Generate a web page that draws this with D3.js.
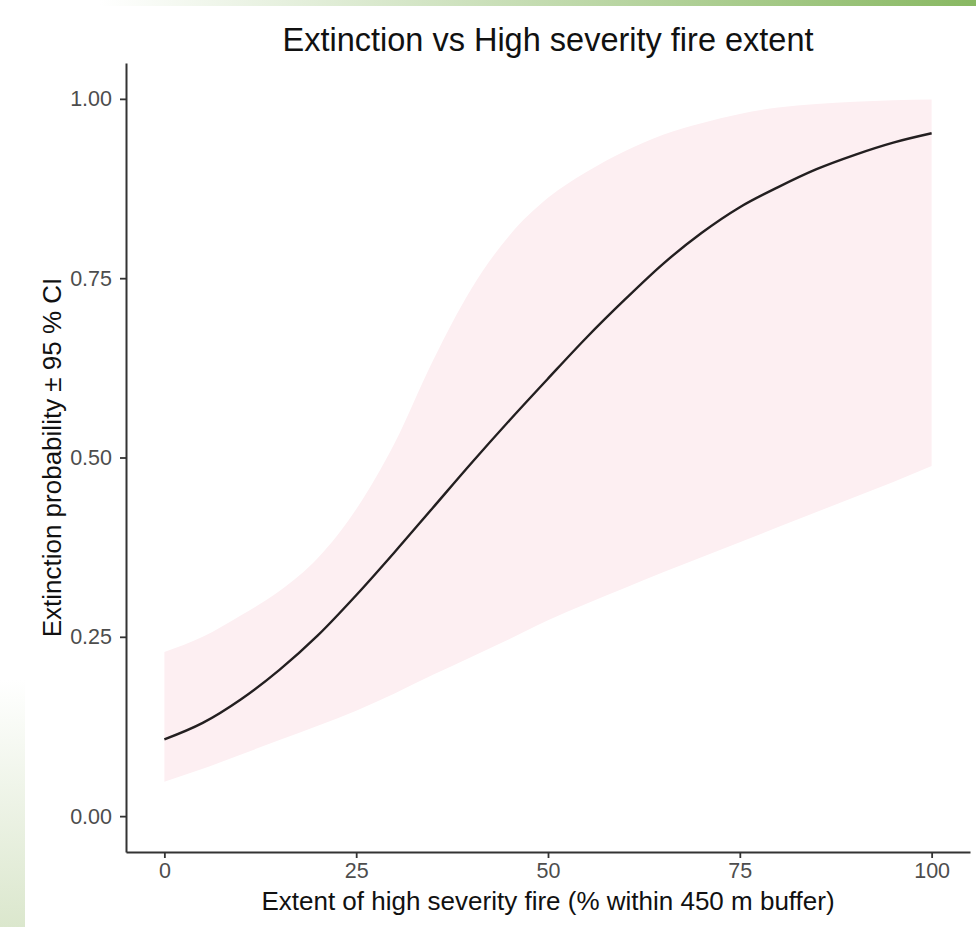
<!DOCTYPE html>
<html>
<head>
<meta charset="utf-8">
<script src="https://cdn.jsdelivr.net/npm/d3@7"></script>
<style>
  body { margin: 0; background: #fff; }
  svg { display: block; font-family: "Liberation Sans", Arial, sans-serif; }
</style>
</head>
<body>
<div id="chart"></div>
<script>
// values
const extent = [0, 5, 10, 15, 20, 25, 30, 35, 40, 45, 50, 55, 60, 65, 70, 75, 80, 85, 90, 95, 100];
const fitValues = [0.107, 0.130, 0.163, 0.204, 0.252, 0.308, 0.368, 0.430, 0.492, 0.552, 0.610, 0.667, 0.720, 0.770, 0.813, 0.849, 0.877, 0.902, 0.922, 0.939, 0.952];
const lowerValues = [0.048, 0.066, 0.086, 0.106, 0.126, 0.147, 0.171, 0.197, 0.222, 0.247, 0.273, 0.296, 0.318, 0.340, 0.361, 0.382, 0.403, 0.424, 0.445, 0.466, 0.488];
const upperValues = [0.229, 0.250, 0.280, 0.314, 0.360, 0.428, 0.520, 0.635, 0.735, 0.810, 0.862, 0.898, 0.927, 0.950, 0.966, 0.979, 0.988, 0.993, 0.996, 0.998, 0.999];
const xTicks = [0, 25, 50, 75, 100];
const yTicks = [0, 0.25, 0.5, 0.75, 1];

const data = extent.map((x, i) => ({ x, fit: fitValues[i], lo: lowerValues[i], hi: upperValues[i] }));

const width = 976, height = 927;
const margin = { top: 63, right: 6, bottom: 75, left: 126 };

const svg = d3.select("#chart")
  .append("svg")
  .attr("width", width)
  .attr("height", height);

// page decoration: green gradient strips
const defs = svg.append("defs");
const topGrad = defs.append("linearGradient").attr("id", "topGrad");
topGrad.append("stop").attr("offset", "0%").attr("stop-color", "#ffffff");
topGrad.append("stop").attr("offset", "100%").attr("stop-color", "#88b862");
const leftGrad = defs.append("linearGradient").attr("id", "leftGrad")
  .attr("x1", 0).attr("y1", 0).attr("x2", 0).attr("y2", 1);
leftGrad.append("stop").attr("offset", "0%").attr("stop-color", "#ffffff");
leftGrad.append("stop").attr("offset", "100%").attr("stop-color", "#dbe7cd");

svg.append("rect").attr("x", 100).attr("y", 0).attr("width", 876).attr("height", 6).attr("fill", "url(#topGrad)");
svg.append("rect").attr("x", 0).attr("y", 680).attr("width", 25).attr("height", 247).attr("fill", "url(#leftGrad)");

const x = d3.scaleLinear()
  .domain([-5, 105])
  .range([margin.left, width - margin.right]);

const y = d3.scaleLinear()
  .domain([-0.05, 1.05])
  .range([height - margin.bottom, margin.top]);

// confidence band
svg.append("path")
  .datum(data)
  .attr("fill", "#fdeff2")
  .attr("d", d3.area()
    .x(d => x(d.x))
    .y0(d => y(d.lo))
    .y1(d => y(d.hi))
    .curve(d3.curveMonotoneX));

// fitted line
svg.append("path")
  .datum(data)
  .attr("fill", "none")
  .attr("stroke", "#231f20")
  .attr("stroke-width", 2.4)
  .attr("d", d3.line()
    .x(d => x(d.x))
    .y(d => y(d.fit))
    .curve(d3.curveMonotoneX));

// axes
const xAxis = svg.append("g")
  .attr("transform", `translate(0,${height - margin.bottom})`)
  .call(d3.axisBottom(x).tickValues(xTicks).tickSize(6).tickPadding(5).tickSizeOuter(0));

const yAxis = svg.append("g")
  .attr("transform", `translate(${margin.left},0)`)
  .call(d3.axisLeft(y).tickValues(yTicks).tickFormat(d3.format(".2f")).tickSize(6).tickPadding(8).tickSizeOuter(0));

[xAxis, yAxis].forEach(g => {
  g.attr("font-size", null).attr("font-family", null);
  g.select(".domain").attr("stroke", "#333").attr("stroke-width", 2);
  g.selectAll(".tick line").attr("stroke", "#333").attr("stroke-width", 1.8);
  g.selectAll(".tick text")
    .attr("fill", "#4d4d4d")
    .style("font-size", "21.5px");
});

// titles
const cx = (margin.left + width - margin.right) / 2;
svg.append("text")
  .attr("x", cx)
  .attr("y", 51)
  .attr("text-anchor", "middle")
  .style("font-size", "32.5px")
  .attr("fill", "#111")
  .text("Extinction vs High severity fire extent");

svg.append("text")
  .attr("x", cx)
  .attr("y", 910)
  .attr("text-anchor", "middle")
  .style("font-size", "26px")
  .attr("fill", "#111")
  .text("Extent of high severity fire (% within 450 m buffer)");

svg.append("text")
  .attr("transform", `translate(61,${(margin.top + height - margin.bottom) / 2}) rotate(-90)`)
  .attr("text-anchor", "middle")
  .style("font-size", "26px")
  .attr("fill", "#111")
  .text("Extinction probability ± 95 % CI");
</script>
</body>
</html>
